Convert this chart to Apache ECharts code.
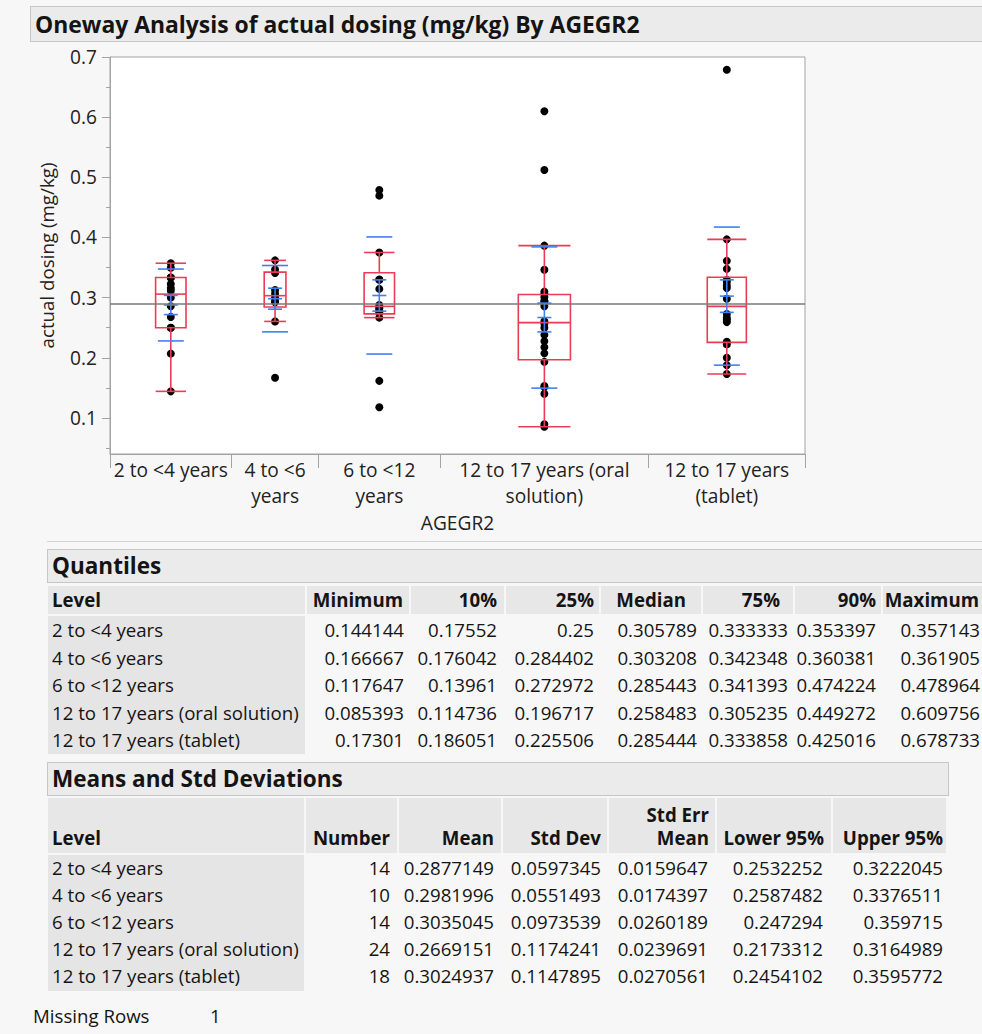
<!DOCTYPE html>
<html><head><meta charset="utf-8">
<script src="https://cdn.jsdelivr.net/npm/echarts@6/dist/echarts.min.js"></script>
<style>
html,body{margin:0;padding:0;background:#f7f7f7;width:982px;height:1034px;overflow:hidden;font-family:"Open Sans",sans-serif;color:#141414;}
.t{position:absolute;white-space:nowrap;overflow:visible;}
.b{position:absolute;}
</style></head><body>
<div id="chart" style="position:absolute;left:0;top:0;width:982px;height:545px"></div>
<div id="tbl"></div>
<script>
// ---------------- data ----------------
const titleText = "Oneway Analysis of actual dosing (mg/kg) By AGEGR2";
const yAxisName = "actual dosing (mg/kg)";
const xAxisName = "AGEGR2";
const levels = ["2 to <4 years","4 to <6 years","6 to <12 years","12 to 17 years (oral solution)","12 to 17 years (tablet)"];
const axisLabels = ["2 to <4 years","4 to <6\nyears","6 to <12\nyears","12 to 17 years (oral\nsolution)","12 to 17 years\n(tablet)"];
const counts = [14,10,14,24,18];
const yTicks = [0.1,0.2,0.3,0.4,0.5,0.6,0.7];
const yMinorTicks = [0.05,0.1,0.15,0.2,0.25,0.3,0.35,0.4,0.45,0.5,0.55,0.6,0.65,0.7];

const dose_2to4 = [0.144144,0.2069,0.25,0.25,0.2679,0.2857,0.3,0.311578,0.3158,0.3226,0.3333,0.3333,0.349651,0.357143];
const dose_4to6 = [0.166667,0.260417,0.292397,0.294118,0.3,0.306416,0.3125,0.340909,0.346665,0.361905];
const dose_6to12 = [0.117647,0.161573,0.2667,0.275063,0.2778,0.2817,0.2833,0.287586,0.3145,0.329555,0.330191,0.375,0.469484,0.478964];
const dose_12to17oral = [0.085393,0.0894,0.140072,0.1515,0.153,0.1932,0.2073,0.2174,0.2273,0.2381,0.25,0.2564,0.260566,0.2857,0.2899,0.2941,0.2944,0.30114,0.3066,0.31,0.3462,0.386349,0.512195,0.609756];
const dose_12to17tab = [0.17301,0.1875,0.2,0.2222,0.226608,0.2593,0.2632,0.2667,0.2727,0.298188,0.3158,0.32,0.3261,0.329211,0.3478,0.3611,0.396825,0.678733];

// Quantiles table
const qMinimum = [0.144144,0.166667,0.117647,0.085393,0.17301];
const q10 = [0.17552,0.176042,0.13961,0.114736,0.186051];
const q25 = [0.25,0.284402,0.272972,0.196717,0.225506];
const qMedian = [0.305789,0.303208,0.285443,0.258483,0.285444];
const q75 = [0.333333,0.342348,0.341393,0.305235,0.333858];
const q90 = [0.353397,0.360381,0.474224,0.449272,0.425016];
const qMaximum = [0.357143,0.361905,0.478964,0.609756,0.678733];

// Means and Std Deviations table
const means = [0.2877149,0.2981996,0.3035045,0.2669151,0.3024937];
const stdDevs = [0.0597345,0.0551493,0.0973539,0.1174241,0.1147895];
const stdErrs = [0.0159647,0.0174397,0.0260189,0.0239691,0.0270561];
const lower95 = [0.2532252,0.2587482,0.247294,0.2173312,0.2454102];
const upper95 = [0.3222045,0.3376511,0.359715,0.3164989,0.3595772];
const missingRows = 1;

// ---------------- helpers ----------------
const FAM = "'Open Sans', sans-serif";
const mctx = document.createElement('canvas').getContext('2d');
function fit(text, weight, target){ mctx.font = weight+" 100px 'Open Sans'"; return 100*target/mctx.measureText(text).width; }
const titleSize = fit(titleText,'bold',605);
const secSize = fit("Means and Std Deviations",'bold',291);
const tabSize = fit("12 to 17 years (oral solution)",'normal',247);
const axSize = fit("2 to <4 years",'normal',114);
const yNameSize = fit(yAxisName,'normal',186);

const groups = [dose_2to4,dose_4to6,dose_6to12,dose_12to17oral,dose_12to17tab];
const bounds = [0]; counts.forEach((c,i)=>bounds.push(bounds[i]+c));
const total = bounds[bounds.length-1];
const centers = counts.map((c,i)=>bounds[i]+c/2);
const grandMean = means.reduce((s,m,i)=>s+m*counts[i],0)/total;

const pts = [];
groups.forEach((g,i)=>g.forEach(v=>pts.push([centers[i],v])));

const boxData = groups.map((g,i)=>{
  const iqr = q75[i]-q25[i];
  const lo = Math.min(...g.filter(v=>v>=q25[i]-1.5*iqr));
  const hi = Math.max(...g.filter(v=>v<=q75[i]+1.5*iqr));
  return [centers[i],q25[i],qMedian[i],q75[i],lo,hi,counts[i]];
});
const meanData = means.map((m,i)=>[centers[i],m,stdDevs[i],stdErrs[i]]);

const RED = '#ec3b55', BLUE = '#4080f0';

// ---------------- chart ----------------
const chart = echarts.init(document.getElementById('chart'), null, {renderer:'svg'});
const labelMap = {}; centers.forEach((c,i)=>labelMap[c]=axisLabels[i]);
chart.setOption({
  animation:false,
  grid:{left:110, top:57, width:695, height:397, show:true, backgroundColor:'#ffffff', borderColor:'#a3a3a3', borderWidth:1},
  xAxis:{type:'value', min:0, max:total,
    axisLine:{show:true, lineStyle:{color:'#a3a3a3'}},
    axisTick:{show:true, customValues:bounds, length:14, lineStyle:{color:'#a3a3a3'}},
    axisLabel:{customValues:centers, formatter:v=>labelMap[v]||'', color:'#222', fontFamily:FAM, fontSize:axSize, lineHeight:26, margin:3},
    splitLine:{show:false},
    name:xAxisName, nameLocation:'middle', nameGap:53, nameTextStyle:{color:'#222', fontFamily:FAM, fontSize:axSize}
  },
  yAxis:[
    {type:'value', min:0.04, max:0.7,
      axisLine:{show:true, lineStyle:{color:'#a3a3a3'}},
      axisTick:{show:true, customValues:yMinorTicks, length:4, lineStyle:{color:'#a3a3a3'}},
      axisLabel:{show:false}, splitLine:{show:false}},
    {type:'value', min:0.04, max:0.7, position:'left',
      axisLine:{show:false},
      axisTick:{show:true, customValues:yTicks, length:8, lineStyle:{color:'#a3a3a3'}},
      axisLabel:{customValues:yTicks, formatter:v=>v.toFixed(1), color:'#222', fontFamily:FAM, fontSize:axSize, margin:13},
      splitLine:{show:false},
      name:yAxisName, nameLocation:'middle', nameGap:54, nameRotate:90,
      nameTextStyle:{color:'#222', fontFamily:FAM, fontSize:yNameSize}}
  ],
  series:[
    {type:'line', data:[], z:1, markLine:{silent:true, symbol:'none', label:{show:false},
      lineStyle:{color:'#7a7a7a', width:1.5, type:'solid'}, data:[{yAxis:grandMean}]}},
    {type:'scatter', data:pts, symbol:'circle', symbolSize:8, itemStyle:{color:'#000', opacity:1}, z:2},
    {type:'custom', z:3, data:boxData, renderItem:(p,api)=>{
      const c=api.value(0), n=api.value(6), half=n*0.125;
      const xl=api.coord([c-half,0.3])[0], xr=api.coord([c+half,0.3])[0], xc=api.coord([c,0.3])[0];
      const y1=api.coord([c,api.value(1)])[1], ym=api.coord([c,api.value(2)])[1], y3=api.coord([c,api.value(3)])[1];
      const ylo=api.coord([c,api.value(4)])[1], yhi=api.coord([c,api.value(5)])[1];
      const st={stroke:RED, lineWidth:1.6, fill:'none'};
      const L=(a,b,cc,d)=>({type:'line', shape:{x1:a,y1:b,x2:cc,y2:d}, style:st});
      return {type:'group', children:[
        {type:'rect', shape:{x:xl,y:y3,width:xr-xl,height:y1-y3}, style:st},
        L(xl,ym,xr,ym), L(xc,y3,xc,yhi), L(xc,y1,xc,ylo), L(xl,yhi,xr,yhi), L(xl,ylo,xr,ylo)
      ]};
    }},
    {type:'custom', z:4, data:meanData, renderItem:(p,api)=>{
      const c=api.value(0), m=api.value(1), sd=api.value(2), se=api.value(3);
      const xc=api.coord([c,m])[0];
      const Y=v=>api.coord([c,v])[1];
      const st={stroke:BLUE, lineWidth:1.6};
      const H=(v,hw)=>({type:'line', shape:{x1:xc-hw,y1:Y(v),x2:xc+hw,y2:Y(v)}, style:st});
      return {type:'group', children:[
        H(m+sd,13), H(m-sd,13), H(m+se,7), H(m,7), H(m-se,7),
        {type:'line', shape:{x1:xc,y1:Y(m+se),x2:xc,y2:Y(m-se)}, style:st}
      ]};
    }}
  ]
});

// ---------------- report (title bars and tables) ----------------
const root = document.getElementById('tbl');
function box(l,t,w,h,bg,border){ const d=document.createElement('div'); d.className='b';
  Object.assign(d.style,{left:l+'px',top:t+'px',width:w+'px',height:h+'px',background:bg,boxSizing:'border-box'});
  if(border) d.style.border=border; root.appendChild(d); return d; }
function txt(s,l,cy,size,weight,align,right){ const d=document.createElement('div'); d.className='t'; d.textContent=s;
  const h=30; d.style.top=(cy-h/2)+'px'; d.style.height=h+'px'; d.style.lineHeight=h+'px';
  d.style.fontSize=size+'px'; d.style.fontWeight=weight||'normal';
  if(align==='right'){ d.style.left=(right-400)+'px'; d.style.width='400px'; d.style.textAlign='right'; }
  else d.style.left=l+'px';
  root.appendChild(d); return d; }

// main title bar
box(30,6,970,36,'#ebebeb','1px solid #c6c6c6');
txt(titleText,35,25,titleSize,'bold');
// separator under plot
box(47,541,950,1,'#d4d4d4');

// Quantiles
box(47,549,950,34,'#ebebeb','1px solid #c6c6c6');
txt("Quantiles",52,566,secSize,'bold');
const qB=[48,305,409,504,599,701,793,881,1000];
for(let i=0;i<qB.length-1;i++) box(qB[i]+(i?2:0),586,qB[i+1]-qB[i]-(i?2:0),28,'#e7e7e7');
box(48,616,257,138,'#e5e5e5');
const qHead=["Minimum","10%","25%","Median","75%","90%","Maximum"];
const qHR=[403,497,594,686,780,876,979];
const qVR=[404,497,594,697,788,876,980];
txt("Level",52,600,tabSize,'bold');
qHead.forEach((h,i)=>txt(h,0,600,tabSize,'bold','right',qHR[i]));
const qCols=[qMinimum,q10,q25,qMedian,q75,q90,qMaximum];
levels.forEach((lv,r)=>{ const cy=630+r*27.6; txt(lv,52,cy,tabSize);
  qCols.forEach((col,i)=>txt(String(col[r]),0,cy,tabSize,'normal','right',qVR[i])); });

// Means and Std Deviations
box(47,762,902,34,'#ebebeb','1px solid #c6c6c6');
txt("Means and Std Deviations",52,779,secSize,'bold');
const mB=[48,304,397,501,607,715,831,946];
for(let i=0;i<mB.length-1;i++) box(mB[i]+(i?2:0),798,mB[i+1]-mB[i]-(i?2:0),55,'#e7e7e7');
box(48,855,256,136,'#e5e5e5');
const mHR=[390,494,601,709,824,943];
const mVR=[390,494,601,708,823,943];
txt("Level",52,838,tabSize,'bold');
["Number","Mean","Std Dev","Mean","Lower 95%","Upper 95%"].forEach((h,i)=>txt(h,0,838,tabSize,'bold','right',mHR[i]));
txt("Std Err",0,815,tabSize,'bold','right',mHR[3]);
const mCols=[counts,means,stdDevs,stdErrs,lower95,upper95];
levels.forEach((lv,r)=>{ const cy=868+r*27; txt(lv,52,cy,tabSize);
  mCols.forEach((col,i)=>txt(String(col[r]),0,cy,tabSize,'normal','right',mVR[i])); });

txt("Missing Rows",33,1016,tabSize);
txt(String(missingRows),210,1016,tabSize);
</script>
</body></html>
